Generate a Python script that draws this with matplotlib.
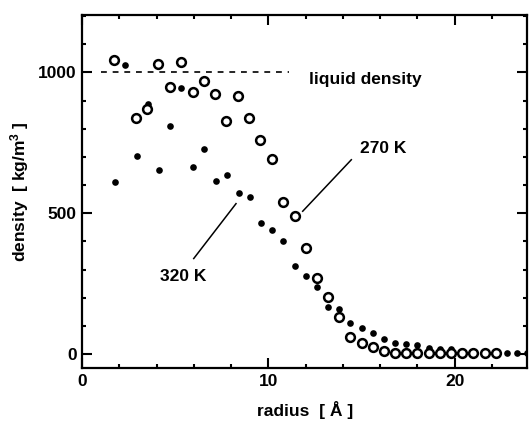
import matplotlib
matplotlib.use("Agg")
import matplotlib.pyplot as plt
from matplotlib.ticker import MultipleLocator

plt.rcParams['font.family'] = ['Liberation Sans', 'DejaVu Sans']
plt.rcParams['mathtext.fontset'] = 'custom'
plt.rcParams['mathtext.rm'] = 'Liberation Sans'
plt.rcParams['mathtext.bf'] = 'Liberation Sans:bold'
plt.rcParams['mathtext.default'] = 'regular'

# 320 K (filled dots)
r_320 = [1.74, 2.28, 2.92, 3.51, 4.14, 4.71, 5.32, 5.97, 6.56, 7.17, 7.78, 8.40,
         9.01, 9.62, 10.2, 10.8, 11.41, 12.0, 12.6, 13.2, 13.8, 14.4, 15.0, 15.6,
         16.2, 16.8, 17.4, 18.0, 18.6, 19.2, 19.8, 20.4, 21.0, 21.6, 22.2, 22.8,
         23.35, 23.9]
rho_320 = [610, 1028, 704, 887, 653, 810, 944, 666, 729, 614, 637, 572,
           557, 467, 439, 400, 311, 278, 237, 167, 159, 111, 91, 74,
           54, 38, 36, 32, 21, 19, 16, 10, 8, 6, 5, 5,
           5, 5]

# 270 K (open circles)
r_270 = [1.70, 2.90, 3.49, 4.07, 4.71, 5.30, 5.93, 6.52, 7.11, 7.74, 8.35, 8.96,
         9.57, 10.18, 10.79, 11.40, 12.0, 12.6, 13.2, 13.8, 14.4, 15.0, 15.6, 16.2,
         16.8, 17.4, 18.0, 18.6, 19.2, 19.8, 20.4, 21.0, 21.6, 22.2]
rho_270 = [1045, 840, 871, 1031, 949, 1038, 932, 970, 924, 826, 918, 839,
           761, 693, 539, 491, 378, 270, 203, 132, 61, 40, 23, 10,
           5, 2, 2, 2, 2, 2, 2, 2, 2, 2]

LIQUID = 1000

fig = plt.figure(figsize=(5.3, 4.23), dpi=100)
ax = fig.add_axes([0.155, 0.13, 0.84, 0.835])

ax.plot([1.0, 11.1], [LIQUID, LIQUID], color='black', lw=1.2, linestyle=(0, (3.5, 3.5)))
ax.plot(r_320, rho_320, 'o', color='black', markersize=4.8, markeredgewidth=0)
ax.plot(r_270, rho_270, 'o', markerfacecolor='white', markeredgecolor='black',
        markersize=6.3, markeredgewidth=1.8)

ax.text(12.2, 975, 'liquid density', fontsize=12.5, fontweight='bold', va='center', ha='left')
ax.text(14.9, 730, '270 K', fontsize=12.5, fontweight='bold', va='center', ha='left')
ax.plot([11.84, 14.45], [507, 690], color='black', lw=1.1)
ax.text(4.2, 276, '320 K', fontsize=12.5, fontweight='bold', va='center', ha='left')
ax.plot([5.99, 8.26], [339, 534], color='black', lw=1.1)

ax.set_xlim(0, 23.9)
ax.set_ylim(-50, 1205)
ax.xaxis.set_major_locator(MultipleLocator(10))
ax.xaxis.set_minor_locator(MultipleLocator(2))
ax.yaxis.set_major_locator(MultipleLocator(500))
ax.yaxis.set_minor_locator(MultipleLocator(100))
ax.tick_params(which='both', direction='in', top=True, right=True, width=1.5,
               labelsize=12.5)
ax.tick_params(which='major', length=7, pad=4)
ax.tick_params(which='minor', length=3)
for lab in ax.get_xticklabels() + ax.get_yticklabels():
    lab.set_fontweight('bold')
for s in ax.spines.values():
    s.set_linewidth(1.6)

ax.set_xlabel(r'radius  [ Å ]', fontsize=12.5, fontweight='bold', labelpad=9)
ax.set_ylabel(r'density  [ kg/m$\mathbf{^3}$ ]', fontsize=12.5, fontweight='bold', labelpad=5)

fig.savefig('out.png', dpi=100)
